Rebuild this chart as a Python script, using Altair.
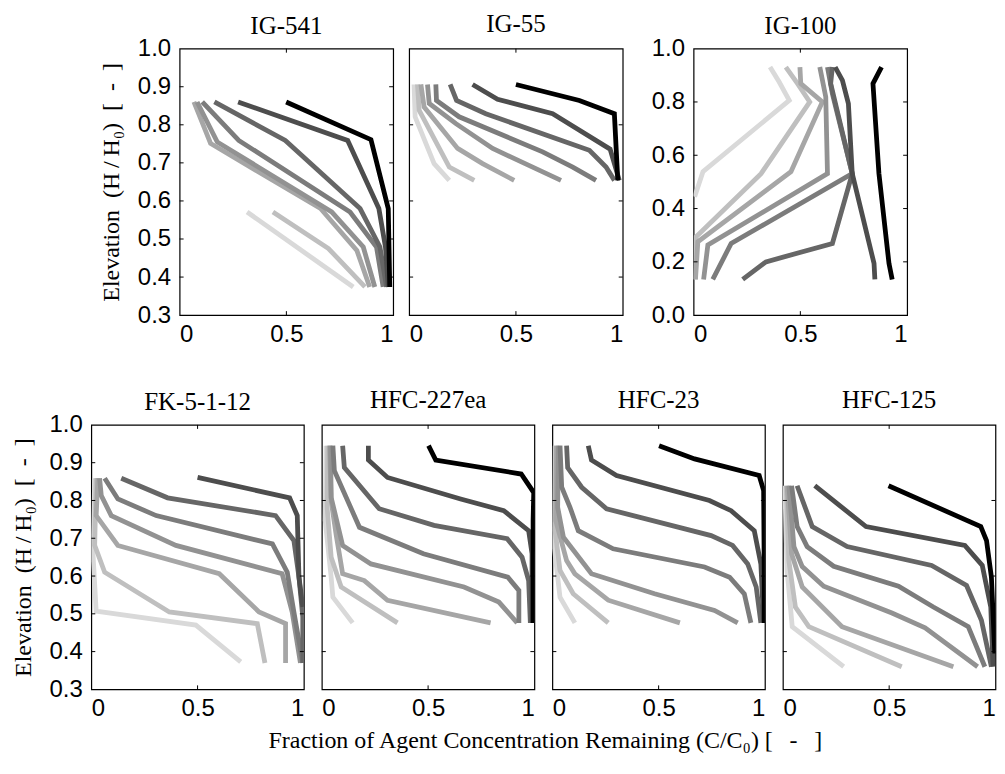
import altair as alt
import pandas as pd

# ---------------- data ----------------
PANEL_NAMES = ["IG-541", "IG-55", "IG-100", "FK-5-1-12", "HFC-227ea", "HFC-23", "HFC-125"]

X_TICK_LABELS = [0, 0.5, 1]
Y_LABELS_A = [0.3, 0.4, 0.5, 0.6, 0.7, 0.8, 0.9, 1.0]
Y_LABELS_B = [0.0, 0.2, 0.4, 0.6, 0.8, 1.0]

# each list: series ordered from lightest (earliest) to black
IG541_X = [
    [0.316, 0.813],
    [0.437, 0.697, 0.868],
    [0.067, 0.145, 0.660, 0.830, 0.890],
    [0.082, 0.176, 0.712, 0.860, 0.914],
    [0.106, 0.277, 0.798, 0.922, 0.953],
    [0.163, 0.495, 0.845, 0.938, 0.969],
    [0.274, 0.787, 0.933, 0.964, 0.977],
    [0.499, 0.896, 0.977, 0.984],
]
IG541_Y = [
    [0.571, 0.374],
    [0.571, 0.475, 0.374],
    [0.860, 0.751, 0.580, 0.470, 0.374],
    [0.860, 0.755, 0.571, 0.479, 0.374],
    [0.860, 0.759, 0.571, 0.479, 0.374],
    [0.860, 0.759, 0.580, 0.479, 0.374],
    [0.860, 0.759, 0.580, 0.479, 0.374],
    [0.860, 0.761, 0.580, 0.374],
]

IG55_X = [
    [0.023, 0.028, 0.117, 0.188],
    [0.039, 0.047, 0.188, 0.305],
    [0.055, 0.070, 0.227, 0.344, 0.492],
    [0.086, 0.094, 0.219, 0.391, 0.711],
    [0.125, 0.128, 0.234, 0.625, 0.766, 0.875],
    [0.192, 0.222, 0.359, 0.844, 0.922, 0.961],
    [0.297, 0.414, 0.672, 0.941, 0.984],
    [0.500, 0.797, 0.961, 0.977],
]
IG55_Y = [
    [0.906, 0.821, 0.698, 0.654],
    [0.906, 0.838, 0.689, 0.654],
    [0.906, 0.847, 0.738, 0.698, 0.654],
    [0.906, 0.856, 0.803, 0.738, 0.654],
    [0.906, 0.864, 0.821, 0.729, 0.689, 0.654],
    [0.906, 0.864, 0.829, 0.733, 0.689, 0.654],
    [0.906, 0.867, 0.829, 0.736, 0.654],
    [0.906, 0.864, 0.829, 0.654],
]

IG100_X = [
    [0.358, 0.401, 0.448, 0.044, 0.005],
    [0.432, 0.487, 0.544, 0.316, 0.012, 0.009],
    [0.498, 0.502, 0.603, 0.456, 0.020, 0.009],
    [0.591, 0.619, 0.627, 0.067, 0.047],
    [0.627, 0.650, 0.743, 0.176, 0.090],
    [0.650, 0.642, 0.743, 0.650, 0.339, 0.230],
    [0.663, 0.697, 0.725, 0.743, 0.845, 0.849],
    [0.880, 0.840, 0.868, 0.915, 0.930],
]
IG100_Y = [
    [0.931, 0.875, 0.806, 0.538, 0.444],
    [0.931, 0.869, 0.800, 0.531, 0.294, 0.134],
    [0.931, 0.869, 0.800, 0.538, 0.275, 0.134],
    [0.931, 0.819, 0.531, 0.263, 0.134],
    [0.931, 0.831, 0.531, 0.269, 0.134],
    [0.931, 0.869, 0.531, 0.269, 0.200, 0.134],
    [0.931, 0.881, 0.794, 0.531, 0.194, 0.134],
    [0.931, 0.869, 0.531, 0.194, 0.134],
]

FK_X = [
    [0.016, 0.008, 0.023, 0.492, 0.703],
    [0.023, 0.016, 0.063, 0.367, 0.781, 0.817],
    [0.031, 0.023, 0.125, 0.602, 0.789, 0.914, 0.914],
    [0.039, 0.047, 0.094, 0.398, 0.898, 0.945, 0.984],
    [0.063, 0.125, 0.305, 0.852, 0.922, 0.953, 0.995],
    [0.141, 0.359, 0.867, 0.953, 0.977, 0.995, 0.995],
    [0.500, 0.933, 0.969, 0.977, 0.995],
]
FK_Y = [
    [0.859, 0.659, 0.507, 0.470, 0.373],
    [0.859, 0.681, 0.610, 0.505, 0.474, 0.370],
    [0.859, 0.760, 0.681, 0.606, 0.505, 0.474, 0.370],
    [0.859, 0.813, 0.760, 0.681, 0.606, 0.505, 0.370],
    [0.859, 0.804, 0.760, 0.685, 0.610, 0.505, 0.370],
    [0.859, 0.807, 0.760, 0.694, 0.597, 0.492, 0.370],
    [0.861, 0.807, 0.760, 0.597, 0.518],
]

HFC227_X = [
    [0.020, 0.016, 0.044, 0.052, 0.145],
    [0.028, 0.025, 0.044, 0.091, 0.356],
    [0.036, 0.044, 0.067, 0.098, 0.200, 0.309, 0.794],
    [0.041, 0.044, 0.098, 0.231, 0.669, 0.833, 0.919],
    [0.052, 0.059, 0.177, 0.478, 0.875, 0.927, 0.927],
    [0.098, 0.106, 0.270, 0.528, 0.872, 0.942, 0.973, 0.981],
    [0.219, 0.219, 0.309, 0.653, 0.856, 0.973, 0.989, 0.989],
    [0.502, 0.536, 0.938, 0.997, 0.994, 0.994],
]
HFC227_Y = [
    [0.945, 0.747, 0.597, 0.544, 0.476],
    [0.945, 0.782, 0.650, 0.571, 0.476],
    [0.945, 0.799, 0.711, 0.606, 0.588, 0.536, 0.476],
    [0.945, 0.808, 0.681, 0.632, 0.571, 0.531, 0.476],
    [0.945, 0.879, 0.729, 0.659, 0.597, 0.562, 0.476],
    [0.945, 0.887, 0.778, 0.734, 0.699, 0.650, 0.588, 0.476],
    [0.945, 0.907, 0.861, 0.804, 0.773, 0.720, 0.659, 0.476],
    [0.945, 0.907, 0.870, 0.821, 0.747, 0.476],
]

HFC23_X = [
    [0.013, 0.009, 0.036, 0.106],
    [0.016, 0.013, 0.036, 0.098, 0.263],
    [0.020, 0.016, 0.067, 0.106, 0.263, 0.600],
    [0.028, 0.025, 0.052, 0.184, 0.481, 0.763, 0.872],
    [0.036, 0.044, 0.083, 0.122, 0.286, 0.716, 0.834, 0.903, 0.934],
    [0.067, 0.072, 0.138, 0.255, 0.747, 0.848, 0.919, 0.959, 0.981],
    [0.169, 0.184, 0.302, 0.739, 0.841, 0.950, 0.981, 0.994],
    [0.502, 0.669, 0.973, 0.994, 0.997, 0.997],
]
HFC23_Y = [
    [0.945, 0.676, 0.544, 0.476],
    [0.945, 0.720, 0.615, 0.553, 0.476],
    [0.945, 0.747, 0.641, 0.606, 0.536, 0.476],
    [0.945, 0.782, 0.703, 0.606, 0.553, 0.509, 0.476],
    [0.945, 0.835, 0.782, 0.720, 0.672, 0.624, 0.597, 0.553, 0.476],
    [0.945, 0.887, 0.835, 0.778, 0.707, 0.681, 0.632, 0.571, 0.476],
    [0.945, 0.907, 0.866, 0.800, 0.773, 0.720, 0.632, 0.476],
    [0.945, 0.910, 0.866, 0.826, 0.597, 0.476],
]

HFC125_X = [
    [0.009, 0.020, 0.044, 0.286],
    [0.016, 0.028, 0.059, 0.122, 0.559],
    [0.020, 0.041, 0.091, 0.278, 0.802],
    [0.028, 0.052, 0.091, 0.192, 0.513, 0.669, 0.916],
    [0.041, 0.067, 0.114, 0.239, 0.544, 0.708, 0.872, 0.950],
    [0.067, 0.138, 0.302, 0.700, 0.864, 0.934, 0.981],
    [0.150, 0.391, 0.856, 0.938, 0.978, 0.989],
    [0.497, 0.931, 0.958, 0.981, 0.997],
]
HFC125_Y = [
    [0.839, 0.614, 0.466, 0.360],
    [0.839, 0.641, 0.518, 0.466, 0.360],
    [0.839, 0.659, 0.571, 0.466, 0.360],
    [0.839, 0.678, 0.625, 0.573, 0.502, 0.463, 0.360],
    [0.839, 0.731, 0.678, 0.626, 0.573, 0.518, 0.466, 0.360],
    [0.839, 0.731, 0.678, 0.628, 0.575, 0.483, 0.360],
    [0.839, 0.731, 0.681, 0.628, 0.518, 0.360],
    [0.839, 0.731, 0.694, 0.597, 0.395],
]

# ---------------- styling ----------------
GRAYS = {
    8: ["#d9d9d9", "#bfbfbf", "#a6a6a6", "#929292", "#7c7c7c", "#666666", "#4d4d4d", "#000000"],
    7: ["#d9d9d9", "#b8b8b8", "#9a9a9a", "#808080", "#666666", "#4d4d4d", "#000000"],
}
SANS = "Liberation Sans"
SERIF = "Liberation Serif"
LABEL_SIZE = 24
TICK_LEN = 4
Y_TITLE = "Elevation\u2002(H\u2009/\u2009H\u2080)\u2002[\u2002-\u2002]"
X_TITLE = "Fraction of Agent Concentration Remaining (C/C\u2080) [\u2002\u2009-\u2002\u2009]"


def panel(name, xs, ys, ydom, ylabels, yticks, ytitle, width, height):
    rows = []
    for s, (xx, yy) in enumerate(zip(xs, ys)):
        for i, (a, b) in enumerate(zip(xx, yy)):
            rows.append({"series": f"s{s}", "i": i, "x": a, "y": b})
    df = pd.DataFrame(rows)
    names = [f"s{s}" for s in range(len(xs))]
    xscale = alt.Scale(domain=[0, 1], nice=False, zero=False)
    yscale = alt.Scale(domain=ydom, nice=False, zero=False)
    xaxis = alt.Axis(
        values=X_TICK_LABELS, format="~g", ticks=False, domain=False,
        grid=False, labelFont=SANS, labelFontSize=LABEL_SIZE, labelColor="black",
        labelPadding=7, title=None,
    )
    if ylabels is not None:
        yargs = dict(
            values=ylabels, format=".1f", ticks=False, domain=False,
            grid=False, labelFont=SANS, labelFontSize=LABEL_SIZE, labelColor="black",
            labelPadding=9,
        )
        if ytitle:
            yargs.update(title=Y_TITLE, titleFont=SERIF, titleFontSize=24,
                         titleFontWeight="normal", titleColor="black", titlePadding=14)
        else:
            yargs.update(title=None)
        yaxis = alt.Axis(**yargs)
        title_offset = -2
    else:
        yaxis = None
        title_offset = 11

    lines = alt.Chart(df).mark_line(strokeWidth=4.8, clip=True).encode(
        x=alt.X("x:Q", scale=xscale, axis=xaxis),
        y=alt.Y("y:Q", scale=yscale, axis=yaxis),
        color=alt.Color("series:N", scale=alt.Scale(domain=names, range=GRAYS[len(xs)]), legend=None),
        order=alt.Order("i:Q"),
    )
    xt = pd.DataFrame({"x": [0.5]})
    yt = pd.DataFrame({"y": yticks})
    rule = dict(color="black", strokeWidth=1)
    t_top = alt.Chart(xt).mark_rule(**rule).encode(
        x=alt.X("x:Q", scale=xscale, axis=xaxis), y=alt.value(0), y2=alt.value(TICK_LEN))
    t_bot = alt.Chart(xt).mark_rule(**rule).encode(
        x=alt.X("x:Q", scale=xscale, axis=xaxis), y=alt.value(height - TICK_LEN), y2=alt.value(height))
    t_left = alt.Chart(yt).mark_rule(**rule).encode(
        y=alt.Y("y:Q", scale=yscale, axis=yaxis), x=alt.value(0), x2=alt.value(TICK_LEN))
    t_right = alt.Chart(yt).mark_rule(**rule).encode(
        y=alt.Y("y:Q", scale=yscale, axis=yaxis), x=alt.value(width - TICK_LEN), x2=alt.value(width))

    return alt.layer(lines, t_top, t_bot, t_left, t_right).properties(
        width=width, height=height,
        title=alt.TitleParams(name, font=SERIF, fontSize=25, fontWeight="normal",
                              color="black", offset=title_offset, anchor="middle"),
    )


TW, TH = 214, 267
BW, BH = 213, 265
TICKS_A = [0.4, 0.5, 0.6, 0.7, 0.8, 0.9]
TICKS_C = [0.4, 0.6, 0.8]
TICKS_B = [0.2, 0.4, 0.6, 0.8]

p1 = panel(PANEL_NAMES[0], IG541_X, IG541_Y, [0.3, 1.0], Y_LABELS_A, TICKS_A, True, TW, TH)
p2 = panel(PANEL_NAMES[1], IG55_X, IG55_Y, [0.3, 1.0], None, TICKS_C, False, TW, TH)
p3 = panel(PANEL_NAMES[2], IG100_X, IG100_Y, [0.0, 1.0], Y_LABELS_B, TICKS_B, False, TW, TH)
p4 = panel(PANEL_NAMES[3], FK_X, FK_Y, [0.3, 1.0], Y_LABELS_A, TICKS_A, True, BW, BH)
p5 = panel(PANEL_NAMES[4], HFC227_X, HFC227_Y, [0.3, 1.0], None, TICKS_C, False, BW, BH)
p6 = panel(PANEL_NAMES[5], HFC23_X, HFC23_Y, [0.3, 1.0], None, TICKS_C, False, BW, BH)
p7 = panel(PANEL_NAMES[6], HFC125_X, HFC125_Y, [0.3, 1.0], None, TICKS_C, False, BW, BH)

top = alt.hconcat(alt.hconcat(p1, p2, spacing=12), p3, spacing=26)
bottom = alt.hconcat(
    p4, p5, p6, p7, spacing=14,
    title=alt.TitleParams(X_TITLE, orient="bottom", anchor="middle", font=SERIF,
                          fontSize=24, fontWeight="normal", color="black", offset=8, dx=42),
)

chart = alt.vconcat(top, bottom, spacing=40, center=True).properties(
    padding={"left": 2, "right": 0, "top": 2, "bottom": 2},
    background="white",
).configure_view(stroke="black", strokeWidth=1.2)

chart.save("out.html", embed_options={"renderer": "svg", "actions": False})
